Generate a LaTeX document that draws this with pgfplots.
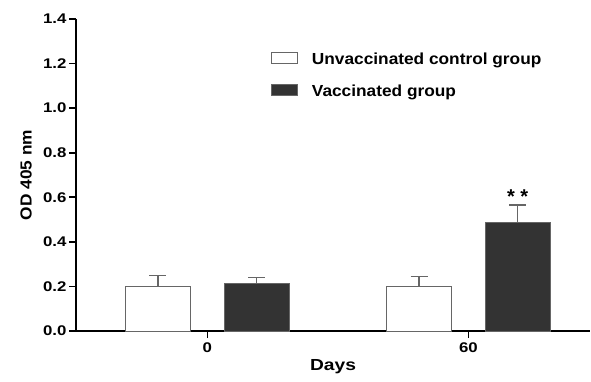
\documentclass[border=0pt]{standalone}
\usepackage{pgfplots}
\pgfplotsset{compat=1.18}
\usepackage{fontspec}
\setmainfont{Liberation Sans}
\newfontfamily\widefont[FakeStretch=1.2]{Liberation Sans}
\newfontfamily\midfont[FakeStretch=1.08]{Liberation Sans}

\definecolor{barfill}{HTML}{333333}
\definecolor{baredge}{HTML}{666666}

\begin{document}
\begin{tikzpicture}
\path[use as bounding box] (0,0) rectangle (591pt,381pt);
\begin{axis}[
  at={(76pt,50pt)}, anchor=south west,
  scale only axis,
  width=514pt, height=312pt,
  xmin=-0.503, xmax=1.466,
  ymin=0, ymax=1.4,
  axis x line*=bottom,
  axis y line*=left,
  axis line style={line width=1.6pt, black},
  xtick={0,1},
  xticklabels={0,60},
  ytick={0,0.2,...,1.4},
  y tick label style={/pgf/number format/fixed, /pgf/number format/fixed zerofill, /pgf/number format/precision=1},
  /pgf/number format/assume math mode=true,
  tick align=outside,
  major tick length=7pt,
  tick style={line width=1.6pt, black},
  ticklabel style={font=\widefont\bfseries\fontsize{14}{14}\selectfont},
  xticklabel style={yshift=-1pt},
  yticklabel style={xshift=1pt},
  xlabel={Days},
  ylabel={OD 405 nm},
  every axis x label/.style={at={(axis description cs:0.5,0)}, yshift=-36pt, anchor=center},
  every axis y label/.style={at={(axis description cs:0,0.5)}, xshift=-50pt, anchor=center, rotate=90},
  xlabel style={font=\widefont\bfseries\fontsize{16}{16}\selectfont},
  ylabel style={font=\midfont\bfseries\fontsize{16}{16}\selectfont},
  ybar, bar width=0.249,
  legend style={draw=none, fill=none, at={(0.373,0.90)}, anchor=north west,
    font=\midfont\bfseries\fontsize{16}{16}\selectfont, row sep=20pt,
    nodes={inner sep=0pt, text depth=0pt}},
  legend cell align=left,
  legend image code/.code={\draw[#1] (0pt,-5.5pt) rectangle (26pt,5.5pt);},
  /tikz/every odd column/.style={column sep=14pt},
  error bars/y dir=plus,
  error bars/y explicit,
  error bars/error bar style={line width=1.2pt, baredge},
  error bars/error mark options={rotate=90, mark size=8.5pt, line width=1.2pt, baredge},
]
% Day 0 and day 60 means with SEM
\addplot[bar shift=-0.189, fill=white, draw=baredge, line width=1pt]
  coordinates {(0,0.200) +- (0,0.050) (1,0.200) +- (0,0.045)};
\addlegendentry{Unvaccinated control group}
\addplot[bar shift=0.189, fill=barfill, draw=baredge, line width=1pt]
  coordinates {(0,0.212) +- (0,0.027) (1,0.489) +- (0,0.076)};
\addlegendentry{Vaccinated group}
\node[font=\bfseries\fontsize{20}{20}\selectfont] at (axis cs:1.189,0.603) {*\ *};
\end{axis}
\end{tikzpicture}
\end{document}
